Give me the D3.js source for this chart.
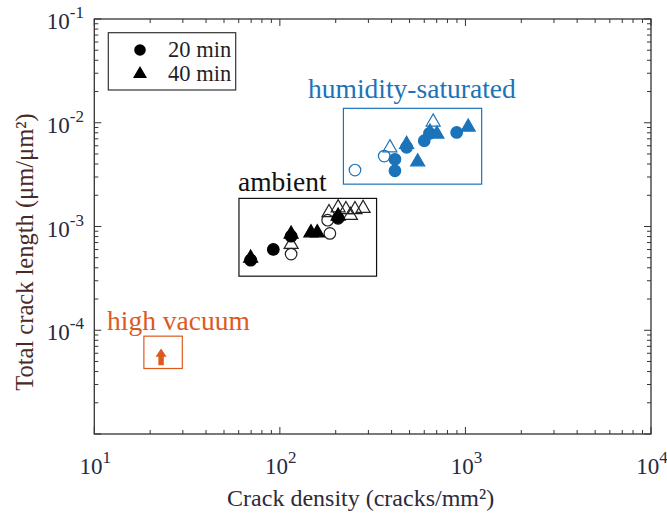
<!DOCTYPE html>
<html><head><meta charset="utf-8">
<script src="https://cdn.jsdelivr.net/npm/d3@7"></script>
<style>body{margin:0;background:#fff}svg{display:block}svg text{font-family:"Liberation Serif","Times New Roman",Tinos,serif}</style>
</head><body>
<script>
// ---- data ----
const xTickExps = [1, 2, 3, 4];
const yTickExps = [-1, -2, -3, -4];
// humidity-saturated
const humid20Open = [[254, 0.0035], [365, 0.00477]];
const humid40Open = [[392, 0.00587], [670, 0.0104]];
const humid20Fill = [[417, 0.00444], [417, 0.00344], [482, 0.0058], [600, 0.00671], [640, 0.0079], [897, 0.00807]];
const humid40Fill = [[482, 0.00633], [553, 0.0043], [644, 0.00832], [702, 0.00796], [1035, 0.00929]];
// ambient
const amb20Open = [[115, 0.000542], [186, 0.000858], [181, 0.00115]];
const amb40Open = [[115, 0.000687], [184, 0.00139], [206, 0.00155], [227, 0.00149], [254, 0.00149], [281, 0.00153], [240, 0.00131]];
const amb20Fill = [[69.6, 0.000474], [92.2, 0.000601], [115, 0.000807], [206, 0.0012]];
const amb40Fill = [[69.6, 0.000507], [115, 0.000864], [147, 0.00089], [159, 0.00089], [206, 0.00129]];
// high vacuum (lower bound arrow)
const vacuumArrow = [[22.9, 0.000046, 0.0000668]];
// annotation regions [x0, x1, y0, y1] in data units
const regionHumid = [220, 1223, 0.00256, 0.01377];
const regionAmb = [60.2, 332, 0.000332, 0.001866];
const regionVac = [18.5, 29.8, 0.0000428, 0.0000877];
const legendLabels = ["20 min", "40 min"];

const W = 667, H = 520;
const m = {l: 94.3, r: 651, t: 19, b: 434};
const blue = "#1b73b9", orange = "#dd5a1e";
const svg = d3.select("body").append("svg").attr("width", W).attr("height", H);

const x = d3.scaleLog().domain([10, 10000]).range([m.l, m.r]);
const y = d3.scaleLog().domain([1e-5, 1e-1]).range([m.b, m.t]);

// frame
svg.append("rect").attr("x", m.l).attr("y", m.t).attr("width", m.r - m.l).attr("height", m.b - m.t)
  .attr("fill", "none").attr("stroke", "#333").attr("stroke-width", 1.3);

// ticks
const minorX = [], minorY = [];
for (let e = 1; e < 4; e++) for (let k = 2; k <= 9; k++) minorX.push(k * Math.pow(10, e));
for (let e = -5; e < -1; e++) for (let k = 2; k <= 9; k++) minorY.push(k * Math.pow(10, e));
const tg = svg.append("g").attr("stroke", "#333").attr("stroke-width", 1);
function xt(v, len) {
  tg.append("line").attr("x1", x(v)).attr("x2", x(v)).attr("y1", m.b).attr("y2", m.b - len);
  tg.append("line").attr("x1", x(v)).attr("x2", x(v)).attr("y1", m.t).attr("y2", m.t + len);
}
function yt(v, len) {
  tg.append("line").attr("y1", y(v)).attr("y2", y(v)).attr("x1", m.l).attr("x2", m.l + len);
  tg.append("line").attr("y1", y(v)).attr("y2", y(v)).attr("x1", m.r).attr("x2", m.r - len);
}
minorX.forEach(v => xt(v, 4));
xTickExps.forEach(e => xt(Math.pow(10, e), 7));
minorY.forEach(v => yt(v, 4));
yTickExps.concat([-5]).forEach(e => yt(Math.pow(10, e), 7));

// tick labels
const tickColor = "#232a45";
xTickExps.forEach(e => {
  const t = svg.append("text").attr("x", x(Math.pow(10, e)) + 1).attr("y", 474)
    .attr("text-anchor", "middle").attr("font-size", 23).attr("fill", tickColor);
  t.append("tspan").text("10");
  t.append("tspan").attr("dy", -11).attr("font-size", 17).text(e);
});
yTickExps.forEach(e => {
  const t = svg.append("text").attr("x", 84).attr("y", y(Math.pow(10, e)) + 10)
    .attr("text-anchor", "end").attr("font-size", 23).attr("fill", tickColor);
  t.append("tspan").text("10");
  t.append("tspan").attr("dy", -11).attr("font-size", 17).text("-" + Math.abs(e));
});

// axis labels
svg.append("text").attr("x", (m.l + m.r) / 2 - 12).attr("y", 506).attr("text-anchor", "middle")
  .attr("font-size", 24).attr("fill", "#2b2b3a").text("Crack density (cracks/mm²)");
svg.append("text").attr("transform", `translate(33,${252}) rotate(-90)`).attr("text-anchor", "middle")
  .attr("font-size", 24.5).attr("fill", "#4a2a24").text("Total crack length (μm/μm²)");

// region boxes
function region(r, col) {
  svg.append("rect").attr("x", x(r[0])).attr("y", y(r[3]))
    .attr("width", x(r[1]) - x(r[0])).attr("height", y(r[2]) - y(r[3]))
    .attr("fill", "none").attr("stroke", col).attr("stroke-width", 1.2);
}
region(regionHumid, blue);
region(regionAmb, "#111");
region(regionVac, orange);
svg.append("text").attr("x", 308)
  .attr("y", y(regionHumid[3]) - 10).attr("font-size", 27.5).attr("fill", blue).text("humidity-saturated");
svg.append("text").attr("x", x(regionAmb[0]) - 1).attr("y", y(regionAmb[3]) - 7)
  .attr("font-size", 27.5).attr("fill", "#111").text("ambient");
svg.append("text").attr("x", 107).attr("y", y(regionVac[3]) - 6)
  .attr("font-size", 27.5).attr("fill", orange).text("high vacuum");

// markers
const circ = d3.symbol().type(d3.symbolCircle).size(105);
const tri = d3.symbol().type(d3.symbolTriangle).size(85);
function pts(data, sym, col, filled, dy) {
  svg.append("g").selectAll("path").data(data).join("path")
    .attr("d", sym)
    .attr("transform", d => `translate(${x(d[0])},${y(d[1]) + (dy || 0)})`)
    .attr("fill", filled ? col : "#fff").attr("fill-opacity", filled ? 1 : 0)
    .attr("stroke", col).attr("stroke-width", 1.2);
}
pts(amb20Open, circ, "#222", false);
pts(amb40Open, tri, "#222", false, 1);
pts(amb20Fill, circ, "#000", true);
pts(amb40Fill, tri, "#000", true, 1);
pts(humid20Open, circ, blue, false);
pts(humid40Open, tri, blue, false, 1);
pts(humid20Fill, circ, blue, true);
pts(humid40Fill, tri, blue, true, 1);

// vacuum arrow
vacuumArrow.forEach(d => {
  const cx = x(d[0]), yb = y(d[1]), yt2 = y(d[2]);
  const hb = yt2 + (yb - yt2) * 0.5;
  svg.append("path").attr("fill", orange)
    .attr("d", `M${cx - 2.7},${yb} L${cx - 2.7},${hb} L${cx - 5.5},${hb} L${cx},${yt2} L${cx + 5.5},${hb} L${cx + 2.7},${hb} L${cx + 2.7},${yb} Z`);
});

// legend
svg.append("rect").attr("x", 108.3).attr("y", 32.7).attr("width", 127.4).attr("height", 57.3)
  .attr("fill", "#fff").attr("stroke", "#333").attr("stroke-width", 1.2);
svg.append("path").attr("d", circ).attr("transform", "translate(140,50)").attr("fill", "#000");
svg.append("path").attr("d", tri).attr("transform", "translate(140,74)").attr("fill", "#000");
legendLabels.forEach((l, i) => svg.append("text").attr("x", 168).attr("y", 57 + i * 24)
  .attr("font-size", 22.5).attr("fill", "#1f1f2a").text(l));
</script>
</body></html>
